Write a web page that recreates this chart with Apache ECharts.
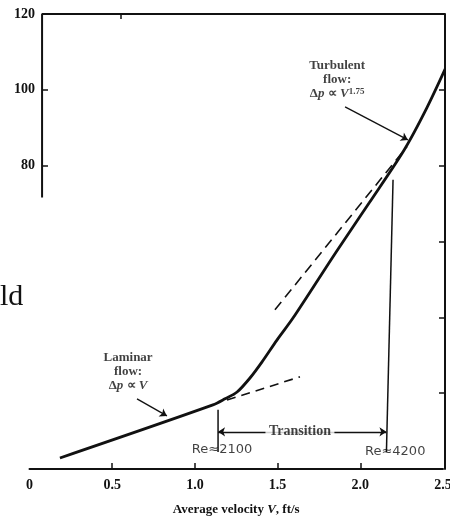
<!DOCTYPE html>
<html>
<head>
<meta charset="utf-8">
<script src="https://cdn.jsdelivr.net/npm/echarts@6/dist/echarts.min.js"></script>
<style>
html,body{margin:0;padding:0;background:#fff;}
#chart{width:450px;height:521px;}
</style>
</head>
<body>
<div id="chart"></div>
<script>
// main curve: pressure drop vs velocity
var curveV  = [0.184, 1.109, 1.182, 1.255, 1.333, 1.405, 1.496, 1.593, 1.855, 2.054, 2.266, 2.403, 2.53];
var curveDp = [2.9, 16.9, 18.5, 20.3, 24.0, 28.2, 34.0, 39.8, 57.3, 70.2, 84.2, 95.3, 107.1];

// dashed asymptotes
var lamDashV  = [1.194, 1.635];
var lamDashDp = [18.2, 24.3];
var turbDashV  = [1.484, 2.282];
var turbDashDp = [42.0, 85.0];

// Re markers (vertical lines)
var re2100V  = [1.140, 1.140];
var re2100Dp = [4.5, 15.6];
var re4200V  = [2.158, 2.198];
var re4200Dp = [4.5, 76.3];

// partial frame left + top (scanned page)
var frameV  = [0.076, 0.076, 2.53];
var frameDp = [71.6, 120, 120];

var xTicks = ['0', '0.5', '1.0', '1.5', '2.0', '2.5'];
var yLabelVals = [80, 100, 120];

// arrows
var arrowFrom = [[0.650, 18.5], [1.908, 95.5]];
var arrowTo   = [[0.831, 14.0], [2.288, 86.8]];
var transitionDp = 9.8;

// text notes
var noteV  = [0.596, 1.86, 1.635, 1.164, 2.211];
var noteDp = [25.6, 102.6, 9.8, 5.0, 4.7];
var noteText = [
  '{b|Laminar}\n{b|flow:}\n{b|Δ}{i|p}{b| ∝ }{i|V}',
  '{b|Turbulent}\n{b|flow:}\n{b|Δ}{i|p}{b| ∝ }{i|V}{s|1.75}',
  '{t| Transition }',
  '{h|Re≈2100}',
  '{h|Re≈4200}'
];

var ink = '#111';
var serif = 'Liberation Serif';

function zip(a, b) { return a.map(function (v, i) { return [v, b[i]]; }); }

var rich = {
  b: { fontFamily: serif, fontWeight: 'bold', fontSize: 13, color: ink, lineHeight: 14 },
  i: { fontFamily: serif, fontWeight: 'bold', fontStyle: 'italic', fontSize: 13, color: ink, lineHeight: 14 },
  s: { fontFamily: serif, fontWeight: 'bold', fontSize: 9, color: ink, lineHeight: 14, verticalAlign: 'top', padding: [0, 0, 6, 0] },
  t: { fontFamily: serif, fontWeight: 'bold', fontSize: 14, color: ink, backgroundColor: '#fff' },
  h: { fontFamily: 'DejaVu Sans', fontSize: 13, color: ink }
};

var myChart = echarts.init(document.getElementById('chart'));

var option = {
  backgroundColor: '#fff',
  animation: false,
  grid: { left: 29.5, right: 7, top: 14, bottom: 52, containLabel: false, outerBoundsMode: 'none' },
  graphic: [{
    type: 'text', left: 0, top: 282,
    style: { text: 'ld', font: '30px "Liberation Serif"', fill: ink }
  }],
  xAxis: [{
    type: 'value', min: 0, max: 2.5, interval: 0.5, position: 'bottom',
    axisLine: { show: true, onZero: false, lineStyle: { color: ink, width: 2 } },
    axisTick: { show: true, inside: true, length: 6, customValues: [0.5, 1, 1.5, 2], lineStyle: { color: ink, width: 1.5 } },
    axisLabel: {
      margin: 9, fontFamily: serif, fontWeight: 'bold', fontSize: 14, color: ink,
      formatter: function (v) { return xTicks[Math.round(v / 0.5)]; }
    },
    splitLine: { show: false },
    name: '{a|Average velocity }{v|V}{a|, ft/s}',
    nameLocation: 'middle', nameGap: 34,
    nameTextStyle: {
      rich: {
        a: { fontFamily: serif, fontWeight: 'bold', fontSize: 13, color: ink },
        v: { fontFamily: serif, fontWeight: 'bold', fontStyle: 'italic', fontSize: 13, color: ink }
      }
    }
  }, {
    type: 'value', min: 0, max: 2.5, interval: 0.5, position: 'top',
    axisLine: { show: false, onZero: false },
    axisTick: { show: true, inside: true, length: 5, customValues: [0.55], lineStyle: { color: ink, width: 1.5 } },
    axisLabel: { show: false },
    splitLine: { show: false }
  }],
  yAxis: [{
    type: 'value', min: 0, max: 120, interval: 20, position: 'left', offset: -12.5,
    axisLine: { show: false, onZero: false },
    axisTick: { show: true, inside: true, length: 6, customValues: [80, 100], lineStyle: { color: ink, width: 1.5 } },
    axisLabel: {
      margin: 7, fontFamily: serif, fontWeight: 'bold', fontSize: 14, color: ink,
      customValues: yLabelVals,
      formatter: function (v) { return yLabelVals.indexOf(v) >= 0 ? String(v) : ''; }
    },
    splitLine: { show: false }
  }, {
    type: 'value', min: 0, max: 120, interval: 20, position: 'right', offset: 2,
    axisLine: { show: true, onZero: false, lineStyle: { color: ink, width: 2 } },
    axisTick: { show: true, inside: true, length: 6, customValues: [20, 40, 60, 80, 100], lineStyle: { color: ink, width: 1.5 } },
    axisLabel: { show: false },
    splitLine: { show: false }
  }],
  series: [
    {
      type: 'line', data: zip(frameV, frameDp), showSymbol: false, clip: false,
      lineStyle: { color: ink, width: 2 }
    },
    {
      type: 'line', data: zip(curveV, curveDp), smooth: 0.3, showSymbol: false, clip: false,
      lineStyle: { color: ink, width: 2.8 }
    },
    {
      type: 'line', data: zip(lamDashV, lamDashDp), showSymbol: false,
      lineStyle: { color: ink, width: 1.6, type: [9, 6] }
    },
    {
      type: 'line', data: zip(turbDashV, turbDashDp), showSymbol: false,
      lineStyle: { color: ink, width: 1.6, type: [10, 6] }
    },
    {
      type: 'line', data: zip(re2100V, re2100Dp), showSymbol: false,
      lineStyle: { color: ink, width: 1.5 }
    },
    {
      type: 'line', data: zip(re4200V, re4200Dp), showSymbol: false,
      lineStyle: { color: ink, width: 1.5 }
    },
    {
      type: 'lines', coordinateSystem: 'cartesian2d', polyline: false,
      symbol: ['none', 'arrow'], symbolSize: 7,
      lineStyle: { color: ink, width: 1.3, opacity: 1 },
      data: arrowFrom.map(function (p, i) { return { coords: [p, arrowTo[i]] }; })
    },
    {
      type: 'lines', coordinateSystem: 'cartesian2d', polyline: false,
      symbol: ['arrow', 'arrow'], symbolSize: 7,
      lineStyle: { color: ink, width: 1.3, opacity: 1 },
      data: [{ coords: [[re2100V[0], transitionDp], [re4200V[0], transitionDp]] }]
    },
    {
      type: 'scatter', symbolSize: 0, z: 10,
      data: noteV.map(function (v, i) {
        return {
          value: [v, noteDp[i]],
          label: { show: true, position: 'inside', align: 'center', verticalAlign: 'middle', formatter: noteText[i], rich: rich }
        };
      })
    }
  ]
};
myChart.setOption(option);
</script>
</body>
</html>
